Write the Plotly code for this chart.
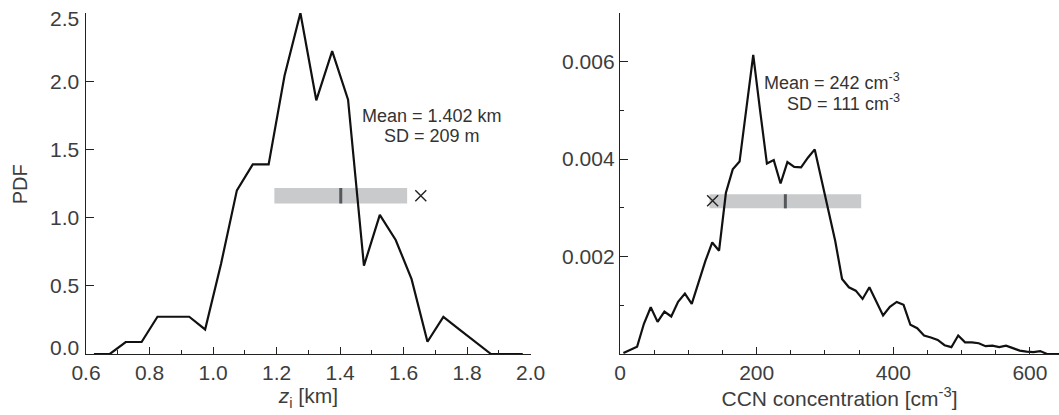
import plotly.graph_objects as go

# ---- Boundary-layer depth z_i: bin centres (km) and PDF ----
zi_bins = [0.625, 0.675, 0.725, 0.775, 0.825, 0.875, 0.925, 0.975, 1.025, 1.075,
           1.125, 1.175, 1.225, 1.275, 1.325, 1.375, 1.425, 1.475, 1.525, 1.575,
           1.625, 1.675, 1.725, 1.775, 1.825, 1.875, 1.925, 1.975]
zi_pdf = [0.0, 0.0, 0.088, 0.088, 0.273, 0.273, 0.273, 0.18, 0.66, 1.20,
          1.39, 1.39, 2.04, 2.50, 1.86, 2.22, 1.865, 0.647, 1.02, 0.836,
          0.549, 0.09, 0.272, 0.18, 0.09, 0.0, 0.0, 0.0]
zi_mean = 1.402          # km
zi_sd = 0.209            # km
zi_cross = 1.654         # km
zi_bar_lo, zi_bar_hi = 1.104, 1.217
zi_yticks = [0.0, 0.5, 1.0, 1.5, 2.0, 2.5]
zi_yticklabels = ["0.0", "0.5", "1.0", "1.5", "2.0", "2.5"]

# ---- CCN concentration: bin centres (cm^-3) and PDF ----
ccn_bins = [5, 15, 25, 35, 45, 55, 65, 75, 85, 95,
            105, 115, 125, 135, 145, 155, 165, 175, 185, 195,
            205, 215, 225, 235, 245, 255, 265, 275, 285, 295,
            305, 315, 325, 335, 345, 355, 365, 375, 385, 395,
            405, 415, 425, 435, 445, 455, 465, 475, 485, 495,
            505, 515, 525, 535, 545, 555, 565, 575, 585, 595,
            605, 615, 625, 635, 645]
ccn_pdf = [0.00002, 0.00009, 0.00015, 0.00062, 0.00096, 0.00066, 0.00087, 0.00077, 0.00107, 0.00124,
           0.00103, 0.00147, 0.00191, 0.00229, 0.00212, 0.00331, 0.00379, 0.00395, 0.00505, 0.00614,
           0.00500, 0.00391, 0.00398, 0.00350, 0.00394, 0.00384, 0.00383, 0.00403, 0.00420, 0.00355,
           0.00297, 0.00232, 0.00154, 0.00137, 0.00130, 0.00113, 0.00137, 0.00109, 0.00079, 0.00097,
           0.00107, 0.00101, 0.00060, 0.00053, 0.00038, 0.00034, 0.00029, 0.00018, 0.00014, 0.00038,
           0.00024, 0.00024, 0.00022, 0.00016, 0.00017, 0.00014, 0.00017, 0.00012, 0.00007, 0.00005,
           0.00004, 0.00006, 0.0, 0.0, 0.0]
ccn_mean = 242           # cm^-3
ccn_sd = 111             # cm^-3
ccn_cross = 135.6        # cm^-3
ccn_cross_level = 0.003145
ccn_bar_lo, ccn_bar_hi = 0.00299, 0.00328
ccn_yticks = [0.002, 0.004, 0.006]
ccn_yticklabels = ["0.002", "0.004", "0.006"]
ccn_yminor = [0.001, 0.003, 0.005]

FONT = "Liberation Sans, Arial, Helvetica, sans-serif"
INK = "#111111"
AXIS = "#222222"
TICKTXT = "#3d3d3d"
BAR = "#c9cacc"
MEANTICK = "#55585b"

fig = go.Figure()

# PDF curves
fig.add_trace(go.Scatter(x=zi_bins, y=zi_pdf, mode="lines",
                         line=dict(color=INK, width=2.2), xaxis="x", yaxis="y",
                         showlegend=False, hoverinfo="skip"))
fig.add_trace(go.Scatter(x=ccn_bins, y=ccn_pdf, mode="lines",
                         line=dict(color=INK, width=2.2), xaxis="x2", yaxis="y2",
                         showlegend=False, hoverinfo="skip"))

# mean +/- SD bars with a tick at the mean
fig.add_shape(type="rect", xref="x", yref="y",
              x0=zi_mean - zi_sd, x1=zi_mean + zi_sd, y0=zi_bar_lo, y1=zi_bar_hi,
              fillcolor=BAR, line=dict(width=0), layer="below")
fig.add_shape(type="line", xref="x", yref="y",
              x0=zi_mean, x1=zi_mean, y0=zi_bar_lo, y1=zi_bar_hi,
              line=dict(color=MEANTICK, width=3), layer="below")
fig.add_shape(type="rect", xref="x2", yref="y2",
              x0=ccn_mean - ccn_sd, x1=ccn_mean + ccn_sd, y0=ccn_bar_lo, y1=ccn_bar_hi,
              fillcolor=BAR, line=dict(width=0), layer="below")
fig.add_shape(type="line", xref="x2", yref="y2",
              x0=ccn_mean, x1=ccn_mean, y0=ccn_bar_lo, y1=ccn_bar_hi,
              line=dict(color=MEANTICK, width=3), layer="below")

# cross markers
fig.add_trace(go.Scatter(x=[zi_cross], y=[(zi_bar_lo + zi_bar_hi) / 2], mode="markers",
                         marker=dict(symbol="x-thin", size=11, line=dict(color="#222222", width=1.4)),
                         xaxis="x", yaxis="y", showlegend=False, hoverinfo="skip"))
fig.add_trace(go.Scatter(x=[ccn_cross], y=[ccn_cross_level], mode="markers",
                         marker=dict(symbol="x-thin", size=11, line=dict(color="#222222", width=1.4)),
                         xaxis="x2", yaxis="y2", showlegend=False, hoverinfo="skip"))

annotations = []

# left y tick labels (end labels kept inside the axis span)
for v, t in zip(zi_yticks, zi_yticklabels):
    if v == zi_yticks[0]:
        shift = 7
    elif v == zi_yticks[-1]:
        shift = -6
    else:
        shift = 0
    annotations.append(dict(x=0, xref="x domain", y=v, yref="y", text=t, showarrow=False,
                            xanchor="right", yanchor="middle", xshift=-5, yshift=shift,
                            font=dict(family=FONT, size=21, color=TICKTXT)))

# statistics text
annotations += [
    dict(x=1.69, y=1.742, xref="x", yref="y", text="Mean = 1.402 km", showarrow=False,
         xanchor="center", yanchor="middle", font=dict(family=FONT, size=18, color="#333333")),
    dict(x=1.69, y=1.595, xref="x", yref="y", text="SD = 209 m", showarrow=False,
         xanchor="center", yanchor="middle", font=dict(family=FONT, size=18, color="#333333")),
    dict(x=412.6, y=0.005586, xref="x2", yref="y2", text="Mean = 242 cm<sup>-3</sup>",
         showarrow=False, xanchor="right", yanchor="middle",
         font=dict(family=FONT, size=18, color="#333333")),
    dict(x=412.6, y=0.005165, xref="x2", yref="y2", text="SD = 111 cm<sup>-3</sup>",
         showarrow=False, xanchor="right", yanchor="middle",
         font=dict(family=FONT, size=18, color="#333333")),
]

# y-axis title of the left panel
annotations.append(
    dict(x=20.3 / 1059, y=1 - 184 / 415, xref="paper", yref="paper", text="PDF",
         textangle=-90, showarrow=False, xanchor="center", yanchor="middle",
         font=dict(family=FONT, size=20, color=TICKTXT)))

ydom = [1 - 354 / 415, 1 - 13 / 415]

common_axis = dict(showgrid=False, zeroline=False, showline=True, linecolor=AXIS,
                   linewidth=1.3, ticks="inside", tickcolor=AXIS, tickwidth=1.3,
                   tickfont=dict(family=FONT, size=21, color=TICKTXT), automargin=False)
title_font = dict(family=FONT, size=21, color=TICKTXT)

fig.update_layout(
    width=1059, height=415,
    margin=dict(l=0, r=0, t=0, b=0),
    paper_bgcolor="white", plot_bgcolor="white",
    xaxis=dict(domain=[86 / 1059, 530.7 / 1059], range=[0.6, 2.0], anchor="y",
               tickmode="linear", tick0=0.6, dtick=0.2, tickformat=".1f", ticklen=7,
               title=dict(text="<i>z</i><sub>i</sub> [km]", font=title_font, standoff=2),
               minor=dict(dtick=0.1, tick0=0.6, ticks="inside", ticklen=4,
                          tickcolor=AXIS, tickwidth=1.3),
               **common_axis),
    yaxis=dict(domain=ydom, range=[0, 2.5], anchor="x",
               tickvals=zi_yticks, ticklen=8, showticklabels=False,
               **common_axis),
    xaxis2=dict(domain=[620 / 1059, 1.0], range=[0, 642.5], anchor="y2",
                tickmode="linear", tick0=0, dtick=200, ticklen=7,
                title=dict(text="CCN concentration [cm<sup>-3</sup>]", font=title_font, standoff=0),
                minor=dict(dtick=50, tick0=0, ticks="inside", ticklen=4,
                           tickcolor=AXIS, tickwidth=1.3),
                **common_axis),
    yaxis2=dict(domain=ydom, range=[0, 0.007], anchor="x2",
                tickvals=ccn_yticks, ticktext=ccn_yticklabels, ticklen=8,
                minor=dict(tickvals=ccn_yminor, ticks="inside", ticklen=4,
                           tickcolor=AXIS, tickwidth=1.3),
                **common_axis),
    annotations=annotations,
)

fig.write_html("out.html")
